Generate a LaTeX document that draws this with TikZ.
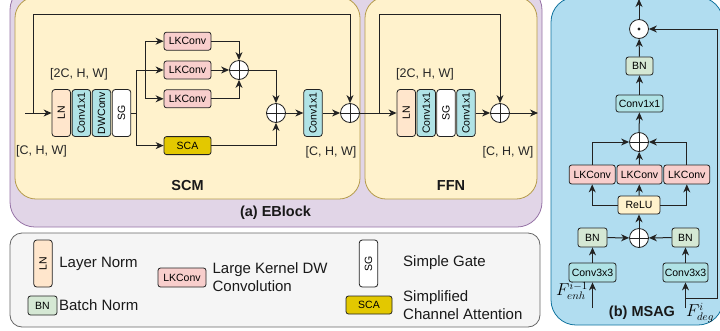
\documentclass[tikz,border=0pt]{standalone}
\usepackage{fontspec}
\setmainfont{Liberation Sans}
\usepackage{xcolor}
\definecolor{lineDark}{HTML}{222222}
\definecolor{ebFill}{HTML}{E1D5E7}
\definecolor{ebLine}{HTML}{9673A6}
\definecolor{subFill}{HTML}{FFF2CC}
\definecolor{subLine}{HTML}{B59B4C}
\definecolor{lnFill}{HTML}{FFE6CC}
\definecolor{convFill}{HTML}{B0E3E6}
\definecolor{lkFill}{HTML}{F8CECC}
\definecolor{scaFill}{HTML}{E3C800}
\definecolor{bnFill}{HTML}{D5E8D4}
\definecolor{legFill}{HTML}{F5F5F5}
\definecolor{legLine}{HTML}{666666}
\definecolor{msagFill}{HTML}{B1DDF0}
\definecolor{msagLine}{HTML}{10739E}
\usepackage{tikz}
\usetikzlibrary{positioning,calc,arrows.meta}
\newcommand{\boxFont}{\fontsize{10.5}{12}\selectfont}
\tikzset{%
  vBlock/.style={%
    rectangle,
    rounded corners=3pt,
    draw=lineDark,
    line width=0.8pt,
    minimum width=18.5pt,
    minimum height=47pt,
    inner sep=0pt,
    font=\boxFont
  },
  hBlock/.style={%
    rectangle,
    rounded corners=2.5pt,
    draw=lineDark,
    line width=0.8pt,
    minimum width=47pt,
    minimum height=18pt,
    inner sep=0pt,
    font=\boxFont
  },
  sumNode/.style={%
    circle,
    draw=lineDark,
    fill=white,
    line width=0.8pt,
    minimum size=19pt,
    inner sep=0pt,
    path picture={\draw[line width=0.8pt]
      (path picture bounding box.north) -- (path picture bounding box.south)
      (path picture bounding box.west) -- (path picture bounding box.east);}
  },
  dotNode/.style={%
    circle,
    draw=lineDark,
    fill=white,
    line width=0.8pt,
    minimum size=19pt,
    inner sep=0pt,
    path picture={\fill[lineDark] (path picture bounding box.center) circle (1.7pt);}
  },
  arrowLine/.style={%
    -{Stealth[length=8pt,width=7pt,inset=2.5pt]},
    line width=1pt,
    color=lineDark
  },
  plainLine/.style={line width=1pt, color=lineDark},
  dimLabel/.style={font=\fontsize{12.5}{14}\selectfont, text=black!85},
  titleText/.style={font=\fontsize{14.5}{16}\selectfont\bfseries, text=black!90},
  mathLabel/.style={font=\fontsize{16}{18}\selectfont, inner sep=0pt},
  legendText/.style={font=\fontsize{15}{18}\selectfont, text=black!90, inner sep=0pt, align=left}
}

\begin{document}
\begin{tikzpicture}[x=1pt, y=-1pt]
  \useasboundingbox (0,0) rectangle (720,330);
  % background panels
  \draw[fill=ebFill, draw=ebLine, line width=0.8pt, rounded corners=25pt] (10,-15) rectangle (542,227);
  \draw[fill=subFill, draw=subLine, line width=0.8pt, rounded corners=21pt] (15,-3) rectangle (360,199);
  \draw[fill=subFill, draw=subLine, line width=0.8pt, rounded corners=21pt] (365,-3) rectangle (537,199);
  \draw[fill=legFill, draw=legLine, line width=0.8pt, rounded corners=12pt] (10,233) rectangle (540,327);
  \draw[fill=msagFill, draw=msagLine, line width=0.8pt, rounded corners=25pt] (551,-3) rectangle (723,325);

  \node[titleText] (scmTitle) at (187.5,186) {SCM};
  \node[titleText] (ffnTitle) at (451,186) {FFN};
  \node[titleText] (ebTitle) at (275.5,213) {(a) EBlock};

  % SCM
  \node[vBlock, fill=lnFill] (ln) at (61.25,113) {\rotatebox{90}{LN}};
  \node[vBlock, fill=convFill, right=0.8pt of ln] (convA) {\rotatebox{90}{Conv1x1}};
  \node[vBlock, fill=convFill, right=0.8pt of convA] (dwconv) {\rotatebox{90}{DWConv}};
  \node[vBlock, fill=white, right=0.8pt of dwconv] (sg) {\rotatebox{90}{SG}};
  \node[hBlock, fill=lkFill] (lkB) at (187.5,70) {LKConv};
  \node[hBlock, fill=lkFill, above=10pt of lkB] (lkA) {LKConv};
  \node[hBlock, fill=lkFill, below=10pt of lkB] (lkC) {LKConv};
  \node[hBlock, fill=scaFill, below=28pt of lkC] (sca) {SCA};
  \node[sumNode] (sumA) at (239,70) {};
  \node[sumNode] (sumB) at (276,113) {};
  \node[vBlock, fill=convFill] (convB) at (313,113) {\rotatebox{90}{Conv1x1}};
  \node[sumNode] (sumC) at (350,113) {};

  \node[dimLabel] (dimA) at (79,74) {[2C, H, W]};
  \node[dimLabel] (dimB) at (41.5,151.5) {[C, H, W]};
  \node[dimLabel] (dimC) at (331,152) {[C, H, W]};

  \coordinate (scmIn) at (25,113);
  \coordinate (skipA) at (33,113);
  \coordinate (skipTopA) at (33,14);
  \coordinate (splitA) at (136,113);
  \coordinate (splitB) at (145,70);

  \draw[arrowLine] (scmIn) -- (ln);
  \draw[arrowLine] (skipA) -- (skipTopA) -| (sumC.north);
  \draw[plainLine] (sg.east) -- (splitA);
  \draw[arrowLine] (splitA) |- (lkB.west);
  \draw[arrowLine] (splitA) |- (sca.west);
  \draw[arrowLine] (splitB) |- (lkA.west);
  \draw[arrowLine] (splitB) |- (lkC.west);
  \draw[arrowLine] (lkA.east) -| (sumA.north);
  \draw[arrowLine] (lkB) -- (sumA);
  \draw[arrowLine] (lkC.east) -| (sumA.south);
  \draw[arrowLine] (sumA.east) -| (sumB.north);
  \draw[arrowLine] (sca.east) -| (sumB.south);
  \draw[arrowLine] (sumB) -- (convB);
  \draw[arrowLine] (convB) -- (sumC);

  % FFN
  \node[vBlock, fill=lnFill] (lnF) at (406.25,113) {\rotatebox{90}{LN}};
  \node[vBlock, fill=convFill, right=0.6pt of lnF] (convC) {\rotatebox{90}{Conv1x1}};
  \node[vBlock, fill=white, right=0.6pt of convC] (sgF) {\rotatebox{90}{SG}};
  \node[vBlock, fill=convFill, right=0.6pt of sgF] (convD) {\rotatebox{90}{Conv1x1}};
  \node[sumNode] (sumD) at (500,113) {};
  \node[dimLabel] (dimD) at (425,74) {[2C, H, W]};
  \node[dimLabel] (dimE) at (508,152) {[C, H, W]};

  \coordinate (skipB) at (379,113);
  \coordinate (skipTopB) at (379,14);
  \coordinate (ffnOut) at (538,113);

  \draw[arrowLine] (sumC) -- (lnF);
  \draw[arrowLine] (skipB) -- (skipTopB) -| (sumD.north);
  \draw[arrowLine] (convD) -- (sumD);
  \draw[arrowLine] (sumD) -- (ffnOut);

  % legend
  \node[vBlock, fill=lnFill] (legLN) at (43,263.5) {\rotatebox{90}{LN}};
  \node[legendText, right=6.5pt of legLN] (legLNText) {Layer Norm};
  \node[hBlock, fill=bnFill, minimum width=29pt, minimum height=19pt] (legBN) at (42.5,305.5) {BN};
  \node[legendText, right=1.5pt of legBN] (legBNText) {Batch Norm};
  \node[hBlock, fill=lkFill, minimum width=48pt, minimum height=19pt] (legLK) at (182,277.5) {LKConv};
  \node[legendText, right=6pt of legLK] (legLKText) {Large Kernel DW\\Convolution};
  \node[vBlock, fill=white] (legSG) at (368.5,263.5) {\rotatebox{90}{SG}};
  \node[legendText, anchor=west] (legSGText) at (403,263) {Simple Gate};
  \node[hBlock, fill=scaFill, minimum width=46pt] (legSCA) at (369,305) {SCA};
  \node[legendText, anchor=west] (legSCAText) at (403,305.5) {Simplified\\Channel Attention};

  % MSAG
  \node[dotNode] (mult) at (639,29) {};
  \node[hBlock, fill=bnFill, minimum width=27pt] (bnTop) at (639.5,66) {BN};
  \node[hBlock, fill=convFill, minimum height=17pt] (convE) at (639.5,103.5) {Conv1x1};
  \node[sumNode] (sumE) at (639,142) {};
  \node[hBlock, fill=lkFill, minimum height=19pt, minimum width=45pt] (lkM) at (639.5,174.5) {LKConv};
  \node[hBlock, fill=lkFill, minimum height=19pt, minimum width=46pt, left=1pt of lkM] (lkL) {LKConv};
  \node[hBlock, fill=lkFill, minimum height=19pt, minimum width=46pt, right=1pt of lkM] (lkR) {LKConv};
  \node[hBlock, fill=subFill, minimum width=42pt] (relu) at (639,205) {ReLU};
  \node[sumNode] (sumF) at (639,238) {};
  \node[hBlock, fill=bnFill, minimum width=29pt, minimum height=19pt] (bnL) at (592.5,237.5) {BN};
  \node[hBlock, fill=bnFill, minimum width=27pt, minimum height=19pt] (bnR) at (685.5,237.5) {BN};
  \node[hBlock, fill=convFill, minimum height=19pt] (c33L) at (592.5,272.5) {Conv3x3};
  \node[hBlock, fill=convFill, minimum height=19pt, minimum width=45pt] (c33R) at (685.5,272.5) {Conv3x3};
  \node[mathLabel] (fEnh) at (572,291) {$F_{enh}^{i-1}$};
  \node[mathLabel] (fDeg) at (700,313) {$F_{deg}^{i}$};
  \node[titleText, inner sep=0pt] (msagTitle) at (642,313) {(b) MSAG};

  \coordinate (msagOut) at (639,-1);
  \coordinate (enhIn) at (592.5,308);
  \coordinate (degIn) at (685.5,308);
  \coordinate (degSplit) at (685.5,298);
  \coordinate (loopCorner) at (717,298);

  \draw[arrowLine] (enhIn) -- (c33L);
  \draw[arrowLine] (degIn) -- (c33R);
  \draw[arrowLine] (degSplit) -- (loopCorner) |- (mult.east);
  \draw[arrowLine] (c33L) -- (bnL);
  \draw[arrowLine] (c33R) -- (bnR);
  \draw[arrowLine] (bnL) -- (sumF);
  \draw[arrowLine] (bnR) -- (sumF);
  \draw[arrowLine] (sumF) -- (relu);
  \draw[arrowLine] (relu) -- (lkM);
  \draw[arrowLine] (relu.west) -| (lkL.south);
  \draw[arrowLine] (relu.east) -| (lkR.south);
  \draw[arrowLine] (lkL.north) |- (sumE.west);
  \draw[arrowLine] (lkR.north) |- (sumE.east);
  \draw[arrowLine] (lkM) -- (sumE);
  \draw[arrowLine] (sumE) -- (convE);
  \draw[arrowLine] (convE) -- (bnTop);
  \draw[arrowLine] (bnTop) -- (mult);
  \draw[arrowLine] (mult) -- (msagOut);
\end{tikzpicture}
\end{document}
